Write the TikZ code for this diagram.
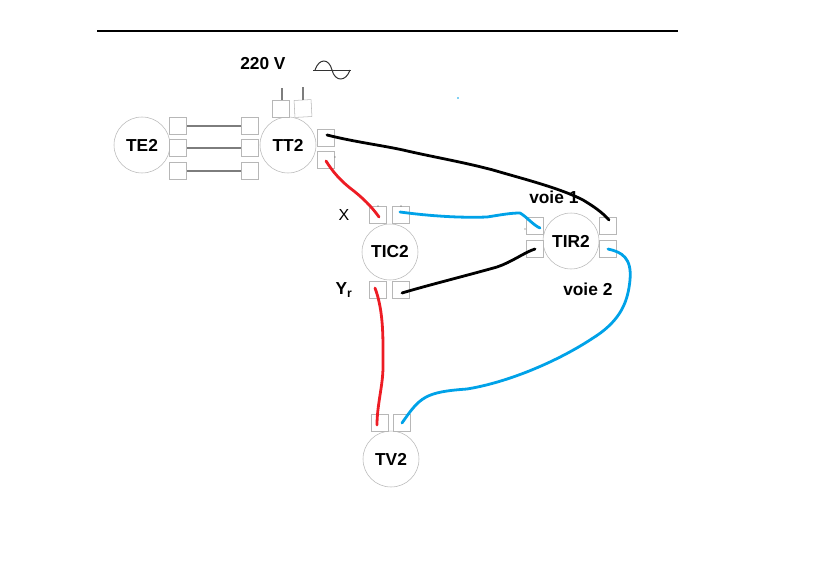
\documentclass[tikz,border=0pt]{standalone}
\usepackage{fontspec}
\setmainfont{Liberation Sans}
\usepackage{xcolor}
\usetikzlibrary{positioning}
\definecolor{fil}{RGB}{183,183,183}
\definecolor{filbleu}{RGB}{0,162,232}
\definecolor{filrouge}{RGB}{237,28,36}
\tikzset{
	appareil/.style={circle,draw=fil,fill=white,minimum size=42pt,inner sep=0pt,font=\fontsize{13}{15}\selectfont\bfseries},
	borne/.style={draw=fil,fill=white,minimum size=12.75pt,inner sep=0pt},
	liaison/.style={draw={rgb,255:red,125;green,125;blue,125},line width=1.1pt},
	cable/.style={line width=2.1pt,line cap=round,line join=round},
	legende/.style={inner sep=0pt,font=\fontsize{13}{15}\selectfont\bfseries}
}
\begin{document}
\begin{tikzpicture}[x=0.75pt,y=0.75pt,yscale=-1,xscale=1]
	\useasboundingbox (0,0) rectangle (836,586);
	
	%Straight Lines
	\coordinate (filetA) at (97,31);
	\coordinate (filetB) at (678,31);
	\draw [line width=0.9pt] (filetA) -- (filetB);
	
	%Appareils
	\node [appareil] (te2) at (142,145) {TE2};
	\node [appareil] (tt2) at (288,145) {TT2};
	\node [appareil] (tic2) at (390,252) {TIC2};
	\node [appareil] (tir2) at (571,241) {TIR2};
	\node [appareil] (tv2) at (391,459) {TV2};
	
	%Bornes TE2 - TT2
	\node [borne] (teA) at (178,126) {};
	\node [borne] (teB) at (178,148) {};
	\node [borne] (teC) at (178,171) {};
	\node [borne] (ttA) at (250,126) {};
	\node [borne] (ttB) at (250,148) {};
	\node [borne] (ttC) at (250,171) {};
	\draw [liaison] (teA) -- (ttA);
	\draw [liaison] (teB) -- (ttB);
	\draw [liaison] (teC) -- (ttC);
	
	%Bornes secteur
	\node [borne] (secA) at (280.5,108.5) {};
	\node [borne,rotate=3] (secB) at (303,108.5) {};
	\coordinate (phaseA) at (282,88);
	\coordinate (phaseB) at (303,87);
	\draw [liaison] (phaseA) -- (phaseA |- secA.north);
	\draw [liaison] (phaseB) -- (phaseB |- secB.north);
	
	%Bornes TT2
	\node [borne] (ttD) at (325.5,137.5) {};
	\node [borne] (ttE) at (325.5,160) {};
	
	%Bornes TIC2
	\node [borne] (ticX) at (378,215) {};
	\node [borne] (ticA) at (400.5,215) {};
	\node [borne] (ticY) at (378,290) {};
	\node [borne] (ticB) at (400.5,290) {};
	
	%Bornes TIR2
	\node [borne] (tirA) at (535,226) {};
	\node [borne] (tirB) at (535,249) {};
	\node [borne] (tirC) at (608,226) {};
	\node [borne] (tirD) at (608,249) {};
	
	%Bornes TV2
	\node [borne] (tvA) at (379.5,423) {};
	\node [borne] (tvB) at (402,423) {};
	
	%Sinusoide
	\coordinate (sinA) at (313,70);
	\coordinate (sinB) at (351,70);
	\draw [line width=0.75pt,black!80] (sinA) -- (sinB);
	\draw [line width=0.75pt,black!80] (315,70) .. controls (319,58) and (329,58) .. (332,70) .. controls (335,82) and (346,82) .. (350,70);
	
	%Cables
	\draw [cable,black] ([shift={(1.5,-2.5)}]ttD.center) .. controls (355,142) and (380,145) .. (403,150) .. controls (433,157) and (463,162) .. (493,170) .. controls (520,178) and (560,188) .. (583,200) .. controls (593,206) and (602,212) .. ([shift={(1,-6)}]tirC.center);
	\draw [cable,filrouge] ([shift={(0.5,1)}]ttE.center) .. controls (333,172) and (340,180) .. (350,188) .. controls (362,197) and (372,207) .. ([shift={(1,2)}]ticX.center);
	\draw [cable,filbleu] ([shift={(-0.5,-3)}]ticA.center) .. controls (430,216) and (460,218) .. (487,217) .. controls (500,215) and (510,213) .. (520,213) .. controls (527,217) and (533,225) .. ([shift={(5,2)}]tirA.center);
	\draw [cable,black] ([shift={(1.5,3)}]ticB.center) .. controls (425,286) and (465,276) .. (497,267) .. controls (512,262) and (525,252) .. (tirB.center);
	\draw [cable,filbleu] (tirD.center) .. controls (622,252) and (632,258) .. (630,280) .. controls (628,300) and (622,320) .. (593,338) .. controls (560,360) and (510,382) .. (467,389) .. controls (425,392) and (420,397) .. (tvB.center);
	\draw [cable,filrouge] ([shift={(-3,-2)}]ticY.center) .. controls (384,312) and (383,340) .. (383,367) .. controls (383,385) and (377,405) .. ([shift={(-2.5,2)}]tvA.center);
	
	%Points
	\fill [filbleu] (458,98) circle (0.8);
	\fill [black!70] (335,157) circle (0.7);
	\fill [black!70] (378,206) circle (0.7);
	\fill [black!70] (401,206) circle (0.7);
	\fill [black!70] (525,229) circle (0.7);
	
	% Text Node
	\node [legende,anchor=west] (tension) at (240,64) {220 V};
	\node [legende,anchor=west] (voieun) at (529,197) {voie 1};
	\node [legende,anchor=west] (voiedeux) at (563,289) {voie 2};
	\node [inner sep=0pt,anchor=center,font=\fontsize{12}{14}\selectfont] (lblX) at (344,215) {X};
	\node [legende,anchor=center] (lblY) at (344,290) {Y\textsubscript{r}};
\end{tikzpicture}
\end{document}
